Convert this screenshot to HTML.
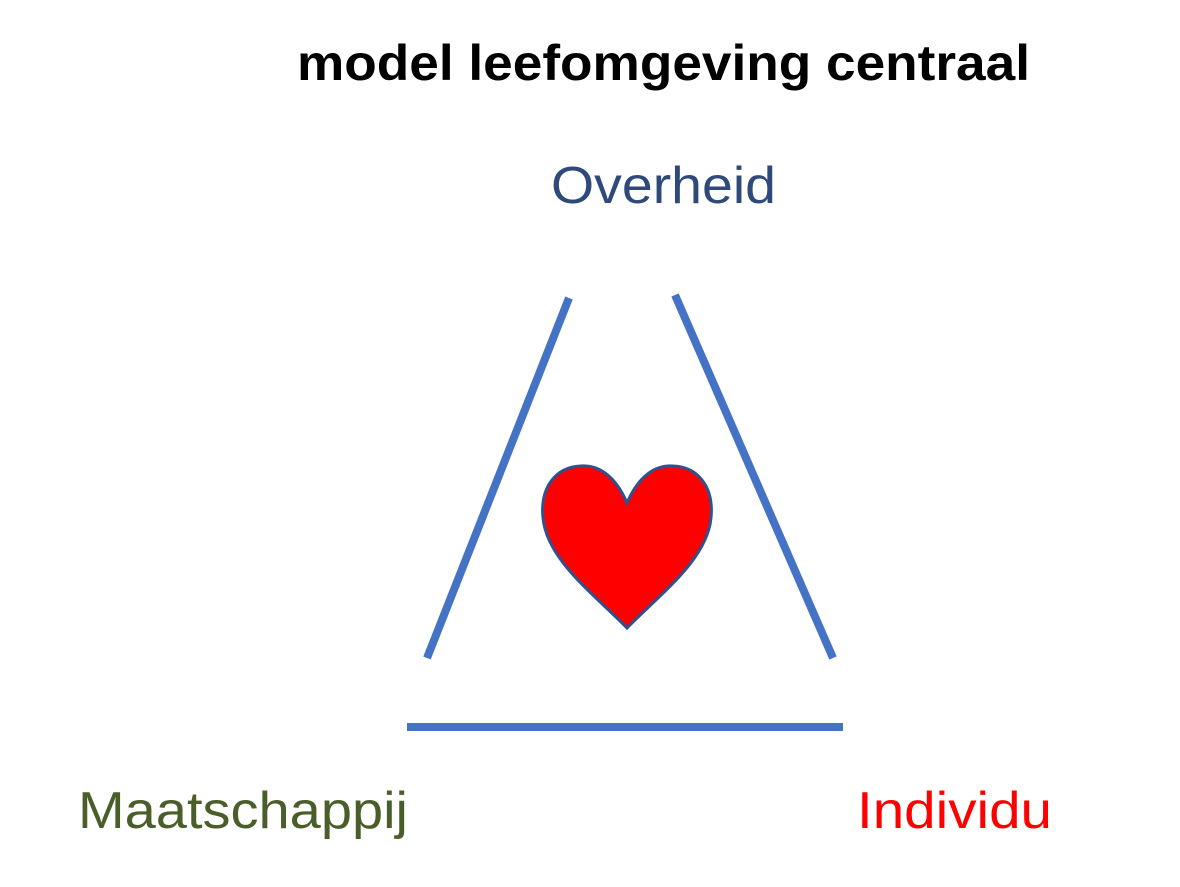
<!DOCTYPE html>
<html><head><meta charset="utf-8"><style>html,body{margin:0;padding:0;background:#fff;}svg{display:block}</style></head>
<body>
<svg width="1180" height="887" viewBox="0 0 1180 887" xmlns="http://www.w3.org/2000/svg">
<text x="297" y="80" font-family="Liberation Sans, sans-serif" font-weight="bold" font-size="50" textLength="733" lengthAdjust="spacingAndGlyphs" fill="#000">model leefomgeving centraal</text>
<text x="551" y="203" font-family="Liberation Sans, sans-serif" font-size="52" textLength="225" lengthAdjust="spacingAndGlyphs" fill="#2F4A7A">Overheid</text>
<text x="78" y="828" font-family="Liberation Sans, sans-serif" font-size="52" textLength="330" lengthAdjust="spacingAndGlyphs" fill="#4A5E2A">Maatschappij</text>
<text x="857" y="828" font-family="Liberation Sans, sans-serif" font-size="52" textLength="195" lengthAdjust="spacingAndGlyphs" fill="#FF0000">Individu</text>
<g stroke="#4472C4" stroke-width="8" fill="none">
<line x1="569" y1="298" x2="427" y2="658"/>
<line x1="675" y1="295" x2="833" y2="658"/>
<line x1="407" y1="727" x2="843" y2="727"/>
</g>
<path d="M627,503 C615,475 598,465 581,466 C555,467 540,488 543,518 C547,560 595,595 627,628 C659,595 707,560 711,518 C714,488 699,467 673,466 C656,465 639,475 627,503 Z" fill="#FF0000" stroke="#2F528F" stroke-width="3"/>
</svg>
</body></html>
